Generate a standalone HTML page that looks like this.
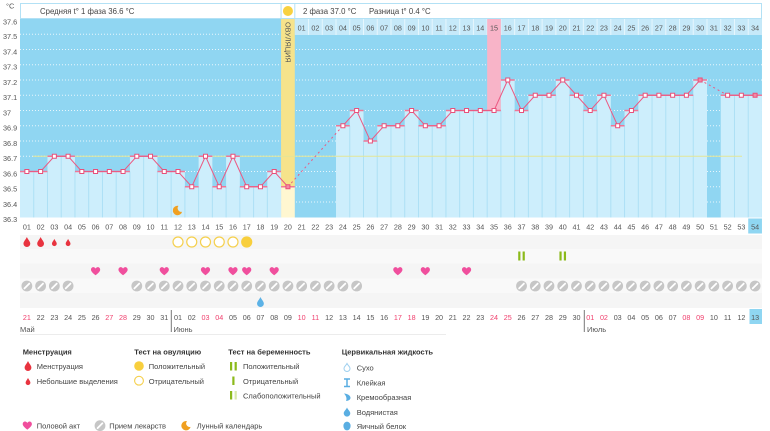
<!DOCTYPE html>
<html><head><meta charset="utf-8"><style>
html,body{margin:0;padding:0;background:#fff;}
svg{display:block;}
text{font-family:"Liberation Sans","DejaVu Sans",sans-serif;}
</style></head><body>
<svg width="770" height="431" viewBox="0 0 770 431" xmlns="http://www.w3.org/2000/svg">
<defs>
<path id="heart" d="M0,4 C-1,3 -4.6,0.6 -4.6,-1.6 C-4.6,-3.4 -3.3,-4.2 -2.2,-4.2 C-1.2,-4.2 -0.4,-3.5 0,-2.7 C0.4,-3.5 1.2,-4.2 2.2,-4.2 C3.3,-4.2 4.6,-3.4 4.6,-1.6 C4.6,0.6 1,3 0,4 Z" fill="#f04f9d"/>
<g id="pill"><circle r="5.4" fill="#c6c6c6"/><path d="M-2.4,2.4 L2.4,-2.4" stroke="#fff" stroke-width="1.8" stroke-linecap="round"/></g>
<path id="dropR" d="M0,-5 C1,-2.5 3.4,-0.6 3.4,1.6 A3.4,3.4 0 0 1 -3.4,1.6 C-3.4,-0.6 -1,-2.5 0,-5 Z" fill="#e8333f"/>
<path id="dropRs" d="M0,-3.6 C0.7,-1.8 2.4,-0.4 2.4,1.2 A2.4,2.4 0 0 1 -2.4,1.2 C-2.4,-0.4 -0.7,-1.8 0,-3.6 Z" fill="#e8333f"/>
<path id="dropB" d="M0,-5 C1,-2.5 3.4,-0.6 3.4,1.6 A3.4,3.4 0 0 1 -3.4,1.6 C-3.4,-0.6 -1,-2.5 0,-5 Z" fill="#5cb2e6"/>
<circle id="ocirc" r="5" fill="#fff" stroke="#f5d04e" stroke-width="1.2"/>
<circle id="fcirc" r="5.6" fill="#f8cf3d"/>
<g id="pbar"><rect x="-3.3" y="-4.5" width="2.2" height="9" fill="#8cba1b"/><rect x="1.1" y="-4.5" width="2.2" height="9" fill="#8cba1b"/></g>
<path id="moon" d="M1,-4.6 A4.7,4.7 0 1 0 4.6,1.2 A3.6,3.6 0 0 1 1,-4.6 Z" fill="#f0a021"/>
</defs>

<!-- header -->
<text x="6" y="8.5" font-size="7.5" fill="#555">°C</text>
<rect x="20.5" y="3.5" width="741" height="15" fill="#fff" stroke="#b3e1f5" stroke-width="1"/>
<text x="40" y="14" font-size="7.8" fill="#444">Средняя t° 1 фаза 36.6 °C</text>
<text x="303" y="14" font-size="7.8" fill="#444">2 фаза 37.0 °C</text>
<text x="369" y="14" font-size="7.8" fill="#444">Разница t° 0.4 °C</text>
<path d="M281.06,3.5 V19 M294.8,3.5 V19" stroke="#b3e1f5" stroke-width="1"/>
<circle cx="287.93" cy="11" r="5" fill="#f8d140"/>

<!-- plot background -->
<rect x="20" y="19" width="741.96" height="198.5" fill="#90d6f2"/>
<!-- gridlines -->
<g stroke="#fff" stroke-width="1" stroke-dasharray="1,2" opacity="0.8">
<path d="M20,34.25 H762 M20,49.5 H762 M20,64.75 H762 M20,80 H762 M20,95.25 H762 M20,110.5 H762 M20,125.75 H762 M20,141 H762 M20,156.25 H762 M20,171.5 H762 M20,186.75 H762 M20,202 H762"/>
</g>

<!-- ovulation column -->
<rect x="281.06" y="19" width="13.74" height="167.75" fill="#f6e38b"/>
<rect x="281.06" y="186.75" width="13.74" height="30.75" fill="#fff7d1"/>
<text transform="translate(285.3,22) rotate(90)" font-size="7.3" fill="#555">ОВУЛЯЦИЯ</text>

<!-- phase 2 day cells -->
<rect x="294.8" y="19" width="467.16" height="16" fill="#c6e9f9"/>
<g stroke="#e6f6fd" stroke-width="1">
<path d="M308.54,19V35 M322.28,19V35 M336.02,19V35 M349.76,19V35 M363.5,19V35 M377.24,19V35 M390.98,19V35 M404.72,19V35 M418.46,19V35 M432.2,19V35 M445.94,19V35 M459.68,19V35 M473.42,19V35 M487.16,19V35 M500.9,19V35 M514.64,19V35 M528.38,19V35 M542.12,19V35 M555.86,19V35 M569.6,19V35 M583.34,19V35 M597.08,19V35 M610.82,19V35 M624.56,19V35 M638.3,19V35 M652.04,19V35 M665.78,19V35 M679.52,19V35 M693.26,19V35 M707,19V35 M720.74,19V35 M734.48,19V35 M748.22,19V35"/>
</g>
<rect x="487.16" y="19" width="13.74" height="91.5" fill="#f8b4c8"/>
<g font-size="7.2" fill="#555" text-anchor="middle">
<text x="301.67" y="30.5">01</text><text x="315.41" y="30.5">02</text><text x="329.15" y="30.5">03</text><text x="342.89" y="30.5">04</text><text x="356.63" y="30.5">05</text><text x="370.37" y="30.5">06</text><text x="384.11" y="30.5">07</text><text x="397.85" y="30.5">08</text><text x="411.59" y="30.5">09</text><text x="425.33" y="30.5">10</text><text x="439.07" y="30.5">11</text><text x="452.81" y="30.5">12</text><text x="466.55" y="30.5">13</text><text x="480.29" y="30.5">14</text><text x="494.03" y="30.5">15</text><text x="507.77" y="30.5">16</text><text x="521.51" y="30.5">17</text><text x="535.25" y="30.5">18</text><text x="548.99" y="30.5">19</text><text x="562.73" y="30.5">20</text><text x="576.47" y="30.5">21</text><text x="590.21" y="30.5">22</text><text x="603.95" y="30.5">23</text><text x="617.69" y="30.5">24</text><text x="631.43" y="30.5">25</text><text x="645.17" y="30.5">26</text><text x="658.91" y="30.5">27</text><text x="672.65" y="30.5">28</text><text x="686.39" y="30.5">29</text><text x="700.13" y="30.5">30</text><text x="713.87" y="30.5">31</text><text x="727.61" y="30.5">32</text><text x="741.35" y="30.5">33</text><text x="755.09" y="30.5">34</text>
</g>

<!-- bars -->
<g fill="#cdeefc">
<rect x="20" y="171.5" width="13.74" height="46"/>
<rect x="33.74" y="171.5" width="13.74" height="46"/>
<rect x="47.48" y="156.25" width="13.74" height="61.25"/>
<rect x="61.22" y="156.25" width="13.74" height="61.25"/>
<rect x="74.96" y="171.5" width="13.74" height="46"/>
<rect x="88.7" y="171.5" width="13.74" height="46"/>
<rect x="102.44" y="171.5" width="13.74" height="46"/>
<rect x="116.18" y="171.5" width="13.74" height="46"/>
<rect x="129.92" y="156.25" width="13.74" height="61.25"/>
<rect x="143.66" y="156.25" width="13.74" height="61.25"/>
<rect x="157.4" y="171.5" width="13.74" height="46"/>
<rect x="171.14" y="171.5" width="13.74" height="46"/>
<rect x="184.88" y="186.75" width="13.74" height="30.75"/>
<rect x="198.62" y="156.25" width="13.74" height="61.25"/>
<rect x="212.36" y="186.75" width="13.74" height="30.75"/>
<rect x="226.1" y="156.25" width="13.74" height="61.25"/>
<rect x="239.84" y="186.75" width="13.74" height="30.75"/>
<rect x="253.58" y="186.75" width="13.74" height="30.75"/>
<rect x="267.32" y="171.5" width="13.74" height="46"/>
<rect x="336.02" y="125.75" width="13.74" height="91.75"/>
<rect x="349.76" y="110.5" width="13.74" height="107"/>
<rect x="363.5" y="141" width="13.74" height="76.5"/>
<rect x="377.24" y="125.75" width="13.74" height="91.75"/>
<rect x="390.98" y="125.75" width="13.74" height="91.75"/>
<rect x="404.72" y="110.5" width="13.74" height="107"/>
<rect x="418.46" y="125.75" width="13.74" height="91.75"/>
<rect x="432.2" y="125.75" width="13.74" height="91.75"/>
<rect x="445.94" y="110.5" width="13.74" height="107"/>
<rect x="459.68" y="110.5" width="13.74" height="107"/>
<rect x="473.42" y="110.5" width="13.74" height="107"/>
<rect x="487.16" y="110.5" width="13.74" height="107"/>
<rect x="500.9" y="80" width="13.74" height="137.5"/>
<rect x="514.64" y="110.5" width="13.74" height="107"/>
<rect x="528.38" y="95.25" width="13.74" height="122.25"/>
<rect x="542.12" y="95.25" width="13.74" height="122.25"/>
<rect x="555.86" y="80" width="13.74" height="137.5"/>
<rect x="569.6" y="95.25" width="13.74" height="122.25"/>
<rect x="583.34" y="110.5" width="13.74" height="107"/>
<rect x="597.08" y="95.25" width="13.74" height="122.25"/>
<rect x="610.82" y="125.75" width="13.74" height="91.75"/>
<rect x="624.56" y="110.5" width="13.74" height="107"/>
<rect x="638.3" y="95.25" width="13.74" height="122.25"/>
<rect x="652.04" y="95.25" width="13.74" height="122.25"/>
<rect x="665.78" y="95.25" width="13.74" height="122.25"/>
<rect x="679.52" y="95.25" width="13.74" height="122.25"/>
<rect x="693.26" y="80" width="13.74" height="137.5"/>
<rect x="720.74" y="95.25" width="13.74" height="122.25"/>
<rect x="734.48" y="95.25" width="13.74" height="122.25"/>
<rect x="748.22" y="95.25" width="13.74" height="122.25"/>
</g>
<!-- bar separators -->
<g stroke="#ade0f5" stroke-width="1">
<path d="M33.74,171.5V217.5 M47.48,171.5V217.5 M61.22,156.25V217.5 M74.96,171.5V217.5 M88.7,171.5V217.5 M102.44,171.5V217.5 M116.18,171.5V217.5 M129.92,171.5V217.5 M143.66,156.25V217.5 M157.4,171.5V217.5 M171.14,171.5V217.5 M184.88,186.75V217.5 M198.62,186.75V217.5 M212.36,186.75V217.5 M226.1,186.75V217.5 M239.84,186.75V217.5 M253.58,186.75V217.5 M267.32,186.75V217.5 M349.76,125.75V217.5 M363.5,141V217.5 M377.24,141V217.5 M390.98,125.75V217.5 M404.72,125.75V217.5 M418.46,125.75V217.5 M432.2,125.75V217.5 M445.94,125.75V217.5 M459.68,110.5V217.5 M473.42,110.5V217.5 M487.16,110.5V217.5 M500.9,110.5V217.5 M514.64,110.5V217.5 M528.38,110.5V217.5 M542.12,95.25V217.5 M555.86,95.25V217.5 M569.6,95.25V217.5 M583.34,110.5V217.5 M597.08,110.5V217.5 M610.82,125.75V217.5 M624.56,125.75V217.5 M638.3,110.5V217.5 M652.04,95.25V217.5 M665.78,95.25V217.5 M679.52,95.25V217.5 M693.26,95.25V217.5 M734.48,95.25V217.5 M748.22,95.25V217.5"/>
</g>

<!-- coverline -->
<path d="M33,156.25 H742" stroke="#e4e597" stroke-width="1"/>

<!-- bar top pink ticks -->
<g stroke="#f07797" stroke-width="1.6">
<path d="M20,171.5h13.74 M33.74,171.5h13.74 M47.48,156.25h13.74 M61.22,156.25h13.74 M74.96,171.5h13.74 M88.7,171.5h13.74 M102.44,171.5h13.74 M116.18,171.5h13.74 M129.92,156.25h13.74 M143.66,156.25h13.74 M157.4,171.5h13.74 M171.14,171.5h13.74 M184.88,186.75h13.74 M198.62,156.25h13.74 M212.36,186.75h13.74 M226.1,156.25h13.74 M239.84,186.75h13.74 M253.58,186.75h13.74 M267.32,171.5h13.74 M281.06,186.75h13.74 M336.02,125.75h13.74 M349.76,110.5h13.74 M363.5,141h13.74 M377.24,125.75h13.74 M390.98,125.75h13.74 M404.72,110.5h13.74 M418.46,125.75h13.74 M432.2,125.75h13.74 M445.94,110.5h13.74 M459.68,110.5h13.74 M473.42,110.5h13.74 M487.16,110.5h13.74 M500.9,80h13.74 M514.64,110.5h13.74 M528.38,95.25h13.74 M542.12,95.25h13.74 M555.86,80h13.74 M569.6,95.25h13.74 M583.34,110.5h13.74 M597.08,95.25h13.74 M610.82,125.75h13.74 M624.56,110.5h13.74 M638.3,95.25h13.74 M652.04,95.25h13.74 M665.78,95.25h13.74 M679.52,95.25h13.74 M693.26,80h13.74 M720.74,95.25h13.74 M734.48,95.25h13.74 M748.22,95.25h13.74"/>
</g>

<!-- series line -->
<g fill="none" stroke="#eb5a83" stroke-width="1">
<polyline points="26.87,171.5 40.61,171.5 54.35,156.25 68.09,156.25 81.83,171.5 95.57,171.5 109.31,171.5 123.05,171.5 136.79,156.25 150.53,156.25 164.27,171.5 178.01,171.5 191.75,186.75 205.49,156.25 219.23,186.75 232.97,156.25 246.71,186.75 260.45,186.75 274.19,171.5 287.93,186.75"/>
<polyline points="287.93,186.75 342.89,125.75" stroke-dasharray="2,3"/>
<polyline points="342.89,125.75 356.63,110.5 370.37,141 384.11,125.75 397.85,125.75 411.59,110.5 425.33,125.75 439.07,125.75 452.81,110.5 466.55,110.5 480.29,110.5 494.03,110.5 507.77,80 521.51,110.5 535.25,95.25 548.99,95.25 562.73,80 576.47,95.25 590.21,110.5 603.95,95.25 617.69,125.75 631.43,110.5 645.17,95.25 658.91,95.25 672.65,95.25 686.39,95.25 700.13,80"/>
<polyline points="700.13,80 727.61,95.25" stroke-dasharray="2,3"/>
<polyline points="727.61,95.25 741.35,95.25 755.09,95.25"/>
</g>
<!-- markers -->
<g fill="#fff" stroke="#e8507a" stroke-width="1">
<rect x="24.87" y="169.5" width="4" height="4"/><rect x="38.61" y="169.5" width="4" height="4"/><rect x="52.35" y="154.25" width="4" height="4"/><rect x="66.09" y="154.25" width="4" height="4"/><rect x="79.83" y="169.5" width="4" height="4"/><rect x="93.57" y="169.5" width="4" height="4"/><rect x="107.31" y="169.5" width="4" height="4"/><rect x="121.05" y="169.5" width="4" height="4"/><rect x="134.79" y="154.25" width="4" height="4"/><rect x="148.53" y="154.25" width="4" height="4"/><rect x="162.27" y="169.5" width="4" height="4"/><rect x="176.01" y="169.5" width="4" height="4"/><rect x="189.75" y="184.75" width="4" height="4"/><rect x="203.49" y="154.25" width="4" height="4"/><rect x="217.23" y="184.75" width="4" height="4"/><rect x="230.97" y="154.25" width="4" height="4"/><rect x="244.71" y="184.75" width="4" height="4"/><rect x="258.45" y="184.75" width="4" height="4"/><rect x="272.19" y="169.5" width="4" height="4"/>
<rect x="285.93" y="184.75" width="4" height="4" fill="#f28aa6"/>
<rect x="340.89" y="123.75" width="4" height="4"/><rect x="354.63" y="108.5" width="4" height="4"/><rect x="368.37" y="139" width="4" height="4"/><rect x="382.11" y="123.75" width="4" height="4"/><rect x="395.85" y="123.75" width="4" height="4"/><rect x="409.59" y="108.5" width="4" height="4"/><rect x="423.33" y="123.75" width="4" height="4"/><rect x="437.07" y="123.75" width="4" height="4"/><rect x="450.81" y="108.5" width="4" height="4"/><rect x="464.55" y="108.5" width="4" height="4"/><rect x="478.29" y="108.5" width="4" height="4"/><rect x="492.03" y="108.5" width="4" height="4"/><rect x="505.77" y="78" width="4" height="4"/><rect x="519.51" y="108.5" width="4" height="4"/><rect x="533.25" y="93.25" width="4" height="4"/><rect x="546.99" y="93.25" width="4" height="4"/><rect x="560.73" y="78" width="4" height="4"/><rect x="574.47" y="93.25" width="4" height="4"/><rect x="588.21" y="108.5" width="4" height="4"/><rect x="601.95" y="93.25" width="4" height="4"/><rect x="615.69" y="123.75" width="4" height="4"/><rect x="629.43" y="108.5" width="4" height="4"/><rect x="643.17" y="93.25" width="4" height="4"/><rect x="656.91" y="93.25" width="4" height="4"/><rect x="670.65" y="93.25" width="4" height="4"/><rect x="684.39" y="93.25" width="4" height="4"/>
<rect x="698.13" y="78" width="4" height="4" fill="#f28aa6"/>
<rect x="725.61" y="93.25" width="4" height="4"/><rect x="739.35" y="93.25" width="4" height="4"/>
<rect x="753.09" y="93.25" width="4" height="4" fill="#f28aa6"/>
</g>

<!-- moon in chart -->
<use href="#moon" x="177.5" y="210.5"/>

<!-- y-axis labels -->
<g font-size="7.3" fill="#555">
<text x="3" y="24.5">37.6</text><text x="3" y="39.2">37.5</text><text x="3" y="54.5">37.4</text><text x="3" y="69.7">37.3</text><text x="3" y="85">37.2</text><text x="3" y="100.2">37.1</text><text x="3" y="115.5">37</text><text x="3" y="130.7">36.9</text><text x="3" y="146">36.8</text><text x="3" y="161.2">36.7</text><text x="3" y="176.5">36.6</text><text x="3" y="191.7">36.5</text><text x="3" y="207">36.4</text><text x="3" y="222">36.3</text>
</g>

<!-- x-axis day labels -->
<rect x="748.22" y="218.5" width="13.74" height="15" fill="#8fd6f2"/>
<g font-size="7.2" fill="#555" text-anchor="middle">
<text x="26.87" y="229.5">01</text><text x="40.61" y="229.5">02</text><text x="54.35" y="229.5">03</text><text x="68.09" y="229.5">04</text><text x="81.83" y="229.5">05</text><text x="95.57" y="229.5">06</text><text x="109.31" y="229.5">07</text><text x="123.05" y="229.5">08</text><text x="136.79" y="229.5">09</text><text x="150.53" y="229.5">10</text><text x="164.27" y="229.5">11</text><text x="178.01" y="229.5">12</text><text x="191.75" y="229.5">13</text><text x="205.49" y="229.5">14</text><text x="219.23" y="229.5">15</text><text x="232.97" y="229.5">16</text><text x="246.71" y="229.5">17</text><text x="260.45" y="229.5">18</text><text x="274.19" y="229.5">19</text><text x="287.93" y="229.5">20</text><text x="301.67" y="229.5">21</text><text x="315.41" y="229.5">22</text><text x="329.15" y="229.5">23</text><text x="342.89" y="229.5">24</text><text x="356.63" y="229.5">25</text><text x="370.37" y="229.5">26</text><text x="384.11" y="229.5">27</text><text x="397.85" y="229.5">28</text><text x="411.59" y="229.5">29</text><text x="425.33" y="229.5">30</text><text x="439.07" y="229.5">31</text><text x="452.81" y="229.5">32</text><text x="466.55" y="229.5">33</text><text x="480.29" y="229.5">34</text><text x="494.03" y="229.5">35</text><text x="507.77" y="229.5">36</text><text x="521.51" y="229.5">37</text><text x="535.25" y="229.5">38</text><text x="548.99" y="229.5">39</text><text x="562.73" y="229.5">40</text><text x="576.47" y="229.5">41</text><text x="590.21" y="229.5">42</text><text x="603.95" y="229.5">43</text><text x="617.69" y="229.5">44</text><text x="631.43" y="229.5">45</text><text x="645.17" y="229.5">46</text><text x="658.91" y="229.5">47</text><text x="672.65" y="229.5">48</text><text x="686.39" y="229.5">49</text><text x="700.13" y="229.5">50</text><text x="713.87" y="229.5">51</text><text x="727.61" y="229.5">52</text><text x="741.35" y="229.5">53</text><text x="755.09" y="229.5">54</text>
</g>

<!-- icon rows background -->
<rect x="20" y="235" width="742" height="73" fill="#f5f5f5"/>
<rect x="20" y="249" width="742" height="14.5" fill="#f9f9f9"/>
<rect x="20" y="278.5" width="742" height="14.5" fill="#f9f9f9"/>

<!-- row 1: menstruation + ovulation tests -->
<use href="#dropR" x="26.87" y="242"/><use href="#dropR" x="40.61" y="242"/>
<use href="#dropRs" x="54.35" y="242.5"/><use href="#dropRs" x="68.09" y="242.5"/>
<use href="#ocirc" x="178.01" y="242"/><use href="#ocirc" x="191.75" y="242"/><use href="#ocirc" x="205.49" y="242"/><use href="#ocirc" x="219.23" y="242"/><use href="#ocirc" x="232.97" y="242"/>
<use href="#fcirc" x="246.71" y="242"/>
<!-- row 2: pregnancy tests -->
<use href="#pbar" x="521.51" y="256"/><use href="#pbar" x="562.73" y="256"/>
<!-- row 3: hearts -->
<use href="#heart" x="95.57" y="271.3"/><use href="#heart" x="123.05" y="271.3"/><use href="#heart" x="164.27" y="271.3"/><use href="#heart" x="205.49" y="271.3"/><use href="#heart" x="232.97" y="271.3"/><use href="#heart" x="246.71" y="271.3"/><use href="#heart" x="274.19" y="271.3"/><use href="#heart" x="397.85" y="271.3"/><use href="#heart" x="425.33" y="271.3"/><use href="#heart" x="466.55" y="271.3"/>
<!-- row 4: pills -->
<use href="#pill" x="26.87" y="286"/><use href="#pill" x="40.61" y="286"/><use href="#pill" x="54.35" y="286"/><use href="#pill" x="68.09" y="286"/>
<use href="#pill" x="136.79" y="286"/><use href="#pill" x="150.53" y="286"/><use href="#pill" x="164.27" y="286"/><use href="#pill" x="178.01" y="286"/><use href="#pill" x="191.75" y="286"/><use href="#pill" x="205.49" y="286"/><use href="#pill" x="219.23" y="286"/><use href="#pill" x="232.97" y="286"/><use href="#pill" x="246.71" y="286"/><use href="#pill" x="260.45" y="286"/><use href="#pill" x="274.19" y="286"/><use href="#pill" x="287.93" y="286"/><use href="#pill" x="301.67" y="286"/><use href="#pill" x="315.41" y="286"/><use href="#pill" x="329.15" y="286"/><use href="#pill" x="342.89" y="286"/><use href="#pill" x="356.63" y="286"/>
<use href="#pill" x="521.51" y="286"/><use href="#pill" x="535.25" y="286"/><use href="#pill" x="548.99" y="286"/><use href="#pill" x="562.73" y="286"/><use href="#pill" x="576.47" y="286"/><use href="#pill" x="590.21" y="286"/><use href="#pill" x="603.95" y="286"/><use href="#pill" x="617.69" y="286"/><use href="#pill" x="631.43" y="286"/><use href="#pill" x="645.17" y="286"/><use href="#pill" x="658.91" y="286"/><use href="#pill" x="672.65" y="286"/><use href="#pill" x="686.39" y="286"/><use href="#pill" x="700.13" y="286"/><use href="#pill" x="713.87" y="286"/><use href="#pill" x="727.61" y="286"/><use href="#pill" x="741.35" y="286"/><use href="#pill" x="755.09" y="286"/>
<!-- row 5: cervical -->
<use href="#dropB" x="260.45" y="302"/>

<!-- dates -->
<rect x="749.5" y="309" width="12.5" height="15" fill="#8fd6f2"/>
<g font-size="7.2" fill="#555" text-anchor="middle">
<text x="26.87" y="320" fill="#f0406e">21</text><text x="40.61" y="320">22</text><text x="54.35" y="320">23</text><text x="68.09" y="320">24</text><text x="81.83" y="320">25</text><text x="95.57" y="320">26</text><text x="109.31" y="320" fill="#f0406e">27</text><text x="123.05" y="320" fill="#f0406e">28</text><text x="136.79" y="320">29</text><text x="150.53" y="320">30</text><text x="164.27" y="320">31</text><text x="178.01" y="320">01</text><text x="191.75" y="320">02</text><text x="205.49" y="320" fill="#f0406e">03</text><text x="219.23" y="320" fill="#f0406e">04</text><text x="232.97" y="320">05</text><text x="246.71" y="320">06</text><text x="260.45" y="320">07</text><text x="274.19" y="320">08</text><text x="287.93" y="320">09</text><text x="301.67" y="320" fill="#f0406e">10</text><text x="315.41" y="320" fill="#f0406e">11</text><text x="329.15" y="320">12</text><text x="342.89" y="320">13</text><text x="356.63" y="320">14</text><text x="370.37" y="320">15</text><text x="384.11" y="320">16</text><text x="397.85" y="320" fill="#f0406e">17</text><text x="411.59" y="320" fill="#f0406e">18</text><text x="425.33" y="320">19</text><text x="439.07" y="320">20</text><text x="452.81" y="320">21</text><text x="466.55" y="320">22</text><text x="480.29" y="320">23</text><text x="494.03" y="320" fill="#f0406e">24</text><text x="507.77" y="320" fill="#f0406e">25</text><text x="521.51" y="320">26</text><text x="535.25" y="320">27</text><text x="548.99" y="320">28</text><text x="562.73" y="320">29</text><text x="576.47" y="320">30</text><text x="590.21" y="320" fill="#f0406e">01</text><text x="603.95" y="320" fill="#f0406e">02</text><text x="617.69" y="320">03</text><text x="631.43" y="320">04</text><text x="645.17" y="320">05</text><text x="658.91" y="320">06</text><text x="672.65" y="320">07</text><text x="686.39" y="320" fill="#f0406e">08</text><text x="700.13" y="320" fill="#f0406e">09</text><text x="713.87" y="320">10</text><text x="727.61" y="320">11</text><text x="741.35" y="320">12</text><text x="755.09" y="320">13</text>
</g>
<path d="M171.3,310V332 M584.3,310V332" stroke="#777" stroke-width="1"/>
<g font-size="7.5" fill="#555">
<text x="20" y="332">Май</text><text x="173.5" y="332">Июнь</text><text x="587" y="332">Июль</text>
</g>
<path d="M20,334.5H446" stroke="#ececec" stroke-width="1"/>

<!-- legend -->
<g font-size="7.5" fill="#333" font-weight="bold">
<text x="22.7" y="354.5">Менструация</text>
<text x="134.3" y="354.5">Тест на овуляцию</text>
<text x="228.3" y="354.5">Тест на беременность</text>
<text x="341.7" y="354.5">Цервикальная жидкость</text>
</g>
<g font-size="7.5" fill="#444">
<use href="#dropR" x="28" y="366"/><text x="36.7" y="369">Менструация</text>
<use href="#dropRs" x="28" y="381.5"/><text x="36.7" y="383.8">Небольшие выделения</text>

<circle cx="139" cy="366" r="4.8" fill="#f8cf3d"/><text x="148.7" y="369">Положительный</text>
<circle cx="139" cy="380.7" r="4.4" fill="#fff" stroke="#f5d04e" stroke-width="1.1"/><text x="148.7" y="383.8">Отрицательный</text>

<rect x="230" y="362" width="2.2" height="8.5" fill="#8cba1b"/><rect x="234.6" y="362" width="2.2" height="8.5" fill="#8cba1b"/><text x="243" y="369">Положительный</text>
<rect x="232.3" y="376.5" width="2.2" height="8.5" fill="#8cba1b"/><text x="243" y="383.8">Отрицательный</text>
<rect x="230" y="391" width="2.2" height="8.5" fill="#8cba1b"/><rect x="234.6" y="391" width="2.2" height="8.5" fill="#dbe9ac"/><text x="243" y="398.3">Слабоположительный</text>

<path d="M347,363.5 C348,365.5 350,366.5 350,368.5 A3,3 0 0 1 344,368.5 C344,366.5 346,365.5 347,363.5 Z" fill="#fff" stroke="#9fd0ef" stroke-width="1"/><text x="356.7" y="370.5">Сухо</text>
<path d="M344,379 H350 M344,386.5 H350 M347,379 V386.5" stroke="#5aaee2" stroke-width="1.5" fill="none"/><text x="356.7" y="385.5">Клейкая</text>
<path d="M344,393.5 C347,393.5 350.5,395.5 350.5,397.8 C350.5,400 348,401 346,401 C347,399 346.5,396 344,393.5 Z" fill="#5aaee2"/><text x="356.7" y="400">Кремообразная</text>
<path d="M347,407.5 C348,409.8 350.3,411.3 350.3,413.3 A3.3,3.3 0 0 1 343.7,413.3 C343.7,411.3 346,409.8 347,407.5 Z" fill="#5aaee2"/><text x="356.7" y="414.8">Водянистая</text>
<ellipse cx="347" cy="426" rx="3.6" ry="4.4" fill="#5aaee2"/><text x="356.7" y="428.8">Яичный белок</text>

<use href="#heart" x="27.3" y="425.7"/><text x="36.7" y="428.5">Половой акт</text>
<use href="#pill" x="100" y="425.7"/><text x="109.3" y="428.5">Прием лекарств</text>
<use href="#moon" x="186" y="425.7"/><text x="196.7" y="428.5">Лунный календарь</text>
</g>
</svg>
</body></html>
